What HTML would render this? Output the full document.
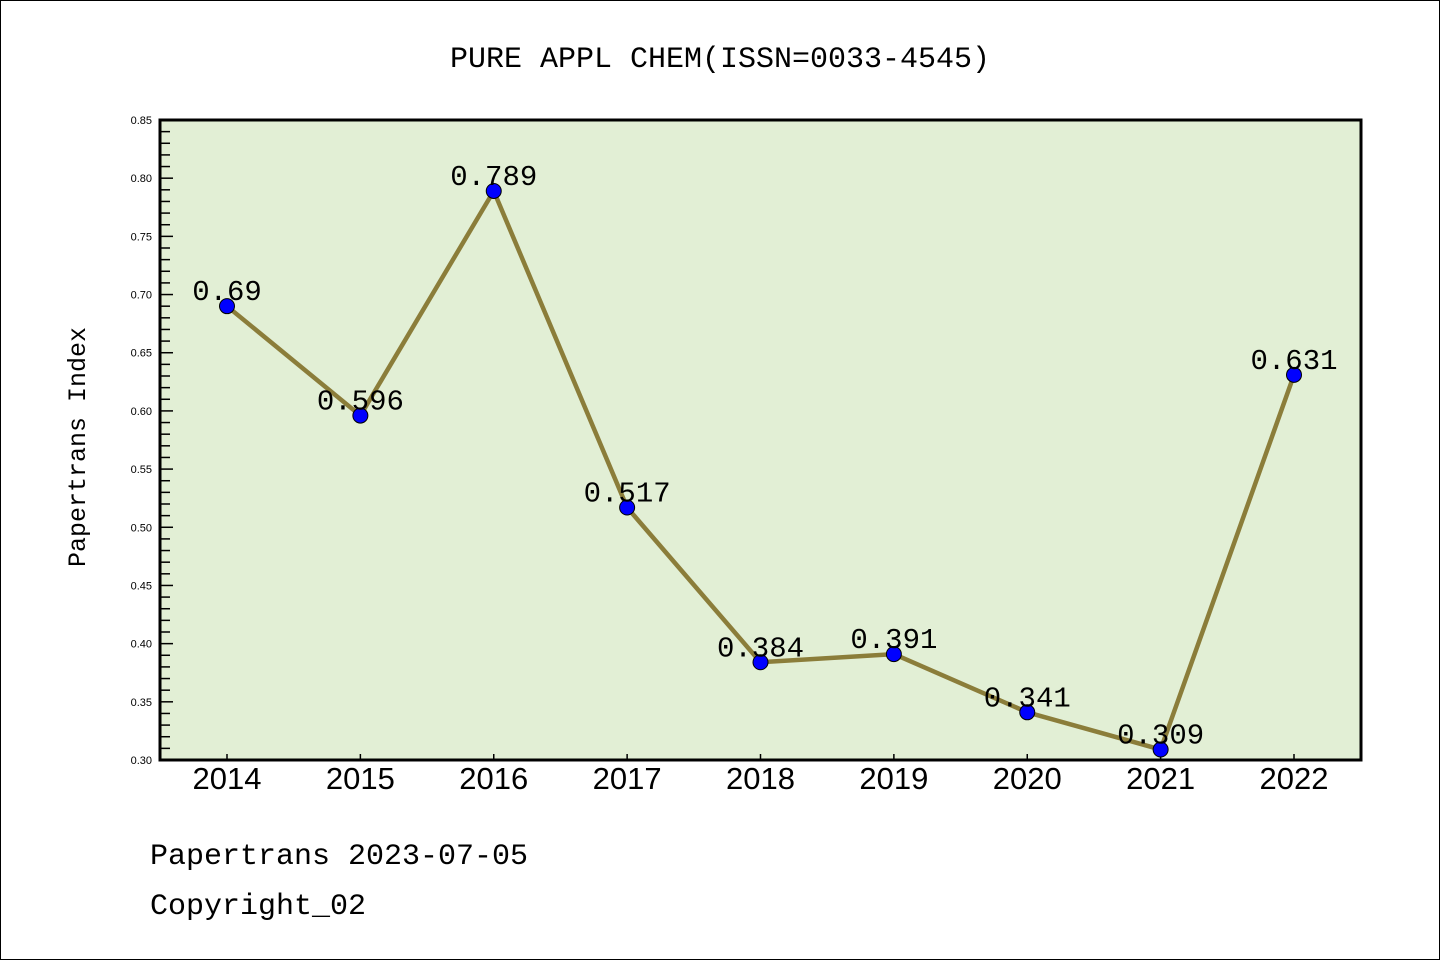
<!DOCTYPE html>
<html><head><meta charset="utf-8"><style>
html,body{margin:0;padding:0;background:#fff}
svg{display:block}
.mono{font-family:"Liberation Mono","WenQuanYi Zen Hei",monospace}
</style></head><body>
<svg width="1440" height="960" viewBox="0 0 1440 960">
<rect x="0.5" y="0.5" width="1439" height="959" fill="#fff" stroke="#000"/>
<text class="mono" x="720" y="67" font-size="30" text-anchor="middle">PURE APPL CHEM(ISSN=0033-4545)</text>
<rect x="160" y="120" width="1201" height="640" fill="#e2efd5"/>
<g id="yticks"></g><g id="xticks"></g>
<g id="series"></g>
<rect x="160" y="120" width="1201" height="640" fill="none" stroke="#000" stroke-width="3"/>
<text class="mono" transform="translate(85,447) rotate(-90)" font-size="25" text-anchor="middle">Papertrans Index</text>
<text class="mono" x="150" y="864" font-size="30">Papertrans 2023-07-05</text>
<text class="mono" x="150" y="914" font-size="30">Copyright_02</text>
</svg>
<script>
const years=["2014","2015","2016","2017","2018","2019","2020","2021","2022"];
const values=[0.69,0.596,0.789,0.517,0.384,0.391,0.341,0.309,0.631];
const valueLabels=["0.69","0.596","0.789","0.517","0.384","0.391","0.341","0.309","0.631"];
const yTickLabels=["0.30","0.35","0.40","0.45","0.50","0.55","0.60","0.65","0.70","0.75","0.80","0.85"];
const NS="http://www.w3.org/2000/svg";
const yMin=0.30,yMax=0.85,plotTop=120,plotBot=760;
function ys(v){return plotBot-(v-yMin)/(yMax-yMin)*(plotBot-plotTop);}
function xs(i){return 227+i*(1294-227)/(years.length-1);}
function mk(t,a,p){const e=document.createElementNS(NS,t);for(const k in a)e.setAttribute(k,a[k]);p.appendChild(e);return e;}
const yt=document.getElementById('yticks');
for(let k=0;k<=55;k++){const v=yMin+k*0.01;const y=ys(v);const major=k%5===0;
 const l=mk('line',{x1:160,x2:major?173:170,y1:y,y2:y,stroke:'#000','stroke-width':1.5},yt);
 
 }
yTickLabels.forEach(s=>{const t=mk('text',{x:152,y:ys(parseFloat(s))+4,'font-size':11,'text-anchor':'end','font-family':'Liberation Sans, sans-serif'},yt);t.textContent=s;
 
 });
const xt=document.getElementById('xticks');
years.forEach((yr,i)=>{const x=xs(i);
 const l=mk('line',{x1:x,x2:x,y1:760,y2:754,stroke:'#000','stroke-width':1.5},xt);
 
 
 const t=mk('text',{x:x,y:789,'font-size':31,'text-anchor':'middle','font-family':'Liberation Sans, sans-serif'},xt);t.textContent=yr;
 
 });
const sg=document.getElementById('series');
const pl=mk('polyline',{points:values.map((v,i)=>xs(i)+','+ys(v)).join(' '),fill:'none',stroke:'#8b7d3a','stroke-width':4.5,'stroke-linejoin':'round'},sg);


values.forEach((v,i)=>{const c=mk('circle',{cx:xs(i),cy:ys(v),r:7.5,fill:'#0000ff',stroke:'#000','stroke-width':1},sg);
 
 
 const t=mk('text',{x:xs(i),y:ys(v)-6,'font-size':29,'text-anchor':'middle',class:'mono'},sg);t.textContent=valueLabels[i];
 
 });
</script>
</body></html>
